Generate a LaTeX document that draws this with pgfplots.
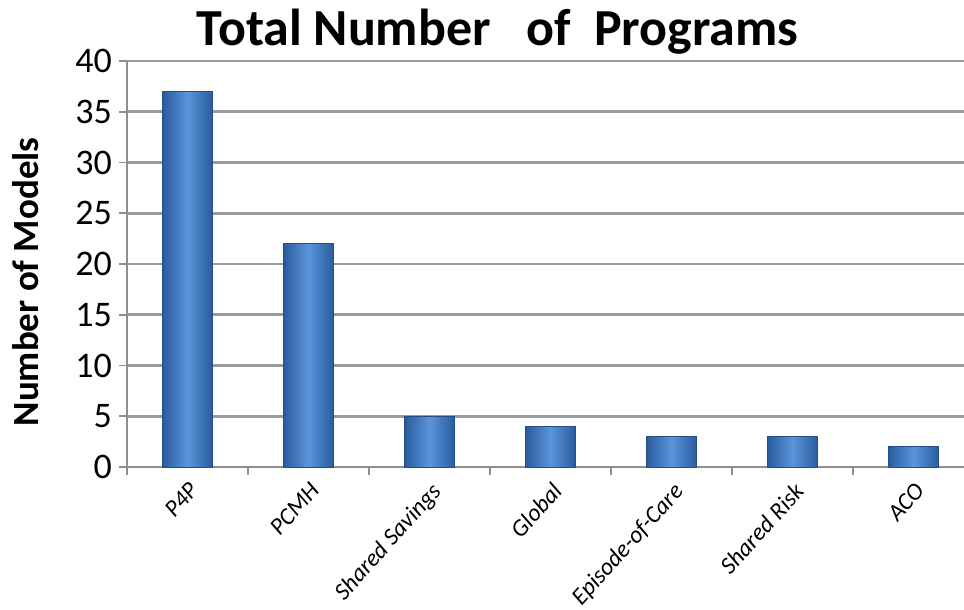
\documentclass[border=0pt]{standalone}
\usepackage{pgfplots}
\pgfplotsset{compat=1.18}
\usepackage{fontspec}
\setmainfont{Carlito}
\definecolor{barDark}{HTML}{2A5C9C}
\definecolor{barLight}{HTML}{5A95DC}
\definecolor{gridGray}{HTML}{8F8F8F}
\pgfplotsset{barstyle/.style={draw=barDark!85!black, line width=0.4pt, left color=barDark, right color=barDark, middle color=barLight}}
\begin{document}
\begin{tikzpicture}
\begin{axis}[
  scale only axis,
  width=418.5pt, height=203pt,
  xmin=-0.5, xmax=6.417,
  ymin=0, ymax=40,
  ytick={0,5,...,40},
  xtick={0,...,6},
  xticklabels={P4P,PCMH,Shared Savings,Global,Episode-of-Care,Shared Risk,ACO},
  minor xtick={-0.5,0.5,...,5.5},
  axis x line*=bottom,
  axis y line*=left,
  axis line style={gridGray, line width=1pt},
  ymajorgrids,
  major grid style={gridGray!90, line width=1.3pt},
  major x tick style={draw=none},
  minor x tick style={gridGray, line width=0.8pt},
  major y tick style={gridGray, line width=0.8pt},
  tick align=outside,
  major tick length=4pt,
  minor tick length=4pt,
  xticklabel style={rotate=48, anchor=north east, font=\itshape\fontsize{12}{13}\selectfont, inner sep=2pt},
  yticklabel style={font=\fontsize{18}{20}\selectfont},
  /pgf/number format/assume math mode=true,
  ylabel={\bfseries Number of Models},
  ylabel style={font=\fontsize{18.5}{20}\selectfont, at={(rel axis cs:0,0.456)}, anchor=center, yshift=50.5pt},
  title={\bfseries Total Number\ \ \ of\ \ Programs},
  title style={font=\fontsize{26}{28}\selectfont, yshift=-6pt, xshift=-24pt},
  ybar, bar width=25pt, bar shift=0pt,
  clip=false,
]
\addplot[barstyle] coordinates {(0,37)};
\addplot[barstyle] coordinates {(1,22)};
\addplot[barstyle] coordinates {(2,5)};
\addplot[barstyle] coordinates {(3,4)};
\addplot[barstyle] coordinates {(4,3)};
\addplot[barstyle] coordinates {(5,3)};
\addplot[barstyle] coordinates {(6,2)};
\coordinate (SW) at (rel axis cs:0,0);
\coordinate (NE) at (rel axis cs:1,1);
\end{axis}
\pgfresetboundingbox
\path[use as bounding box] ([xshift=-63.5pt,yshift=-71.5pt]SW) rectangle ([yshift=30.5pt]NE);
\end{tikzpicture}
\end{document}
